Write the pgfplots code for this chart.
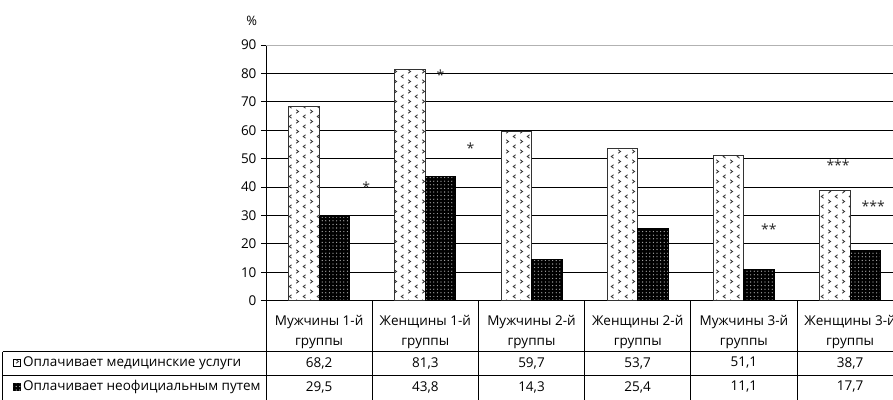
\documentclass[border=0pt]{standalone}
\usepackage{fontspec}
\setmainfont{Open Sans}
\usepackage{pgfplots}
\pgfplotsset{compat=1.18}
\usetikzlibrary{patterns.meta}

\tikzdeclarepattern{
  name=chev, type=uncolored,
  bottom left={(-.1pt,-.1pt)}, top right={(14pt,10pt)},
  tile size={(14pt,10pt)},
  code={
    \draw[line width=0.8pt] (2.2pt,5.8pt) -- (4.6pt,7.5pt) -- (2.2pt,9.2pt);
    \draw[line width=0.8pt] (11.6pt,0.8pt) -- (9.2pt,2.5pt) -- (11.6pt,4.2pt);
  }
}
\tikzdeclarepattern{
  name=wdots, type=uncolored,
  bottom left={(-.5pt,-.5pt)}, top right={(3.6pt,3.6pt)},
  tile size={(3.6pt,3.6pt)},
  code={\fill (1.8pt,1.8pt) circle (0.65pt);}
}

\newcommand\tf{\fontsize{13.5}{16}\selectfont}

\begin{document}
\begin{tikzpicture}
\path[use as bounding box] (-266pt,-98.4pt) rectangle (627pt,300.6pt);
\clip (-266pt,-98.4pt) rectangle (627pt,300.6pt);
\begin{axis}[
  at={(0pt,0pt)}, anchor=south west,
  scale only axis, width=627pt, height=255.6pt,
  xmin=-0.5, xmax=5.404, ymin=0, ymax=90,
  axis lines=left, axis line style={-, line width=0.9pt, black},
  xtick=\empty,
  ytick={0,10,...,80},
  extra y ticks={90},
  extra y tick style={ymajorgrids=true, major grid style={draw=gray!60, line width=0.9pt}},
  ymajorgrids, major grid style={draw=black, line width=0.8pt},
  tick style={black, line width=0.8pt},
  tick align=outside, major tick length=5pt,
  /pgf/number format/assume math mode=true,
  yticklabel style={font=\fontsize{13.5}{16}\selectfont, xshift=-1pt},
  ybar=0pt, bar width=30.5pt,
  clip=false,
]
\addplot[draw=black!80, line width=1pt, fill=white,
  postaction={pattern=chev, pattern color=black!80}]
  coordinates {(0,68.2) (1,81.3) (2,59.7) (3,53.7) (4,51.1) (5,38.7)};
\addplot[draw=black, line width=1pt, fill=black,
  postaction={pattern=wdots, pattern color=gray!60}]
  coordinates {(0,29.5) (1,43.8) (2,14.3) (3,25.4) (4,11.1) (5,17.7)};

\begin{scope}[every node/.style={font=\fontsize{14}{15}\selectfont, text=black!85, inner sep=0pt, yshift=-3pt}]
\node at (axis cs:0.443,41.1) {*};
\node at (axis cs:1.142,80.5) {*};
\node at (axis cs:1.425,54.8) {*};
\node at (axis cs:4.236,26.3) {**};
\node at (axis cs:4.887,48.8) {***};
\node at (axis cs:5.217,34.4) {***};
\end{scope}
\node[font=\fontsize{13}{14}\selectfont, inner sep=0pt] at (axis cs:-0.635,98.5) {\%};
\end{axis}

% table lines
\draw[line width=0.9pt] (-263.3pt,-51.1pt) -- (627pt,-51.1pt);
\draw[line width=0.9pt] (-263.3pt,-74.4pt) -- (627pt,-74.4pt);
\draw[line width=0.9pt] (-263.3pt,-51.1pt) -- (-263.3pt,-100pt);
\draw[line width=0.9pt] (0pt,0pt) -- (0pt,-100pt);
\foreach \k in {1,...,5} \draw[line width=0.9pt] (\k*106.2pt,0pt) -- (\k*106.2pt,-100pt);

% header
\begin{scope}[every node/.style={font=\tf, inner sep=0pt}]
\node at (53.1pt,-21.4pt) {Мужчины 1-й};
\node at (159.3pt,-21.4pt) {Женщины 1-й};
\node at (265.5pt,-21.4pt) {Мужчины 2-й};
\node at (371.7pt,-21.4pt) {Женщины 2-й};
\node at (477.9pt,-21.4pt) {Мужчины 3-й};
\node at (584.1pt,-21.4pt) {Женщины 3-й};
\foreach \k in {0,...,5} \node at (53.1pt+\k*106.2pt,-42.4pt) {группы};
% row 1
\node at (53.1pt,-62.4pt) {68,2};
\node at (159.3pt,-62.4pt) {81,3};
\node at (265.5pt,-62.4pt) {59,7};
\node at (371.7pt,-62.4pt) {53,7};
\node at (477.9pt,-62.4pt) {51,1};
\node at (584.1pt,-62.4pt) {38,7};
% row 2
\node at (53.1pt,-86.4pt) {29,5};
\node at (159.3pt,-86.4pt) {43,8};
\node at (265.5pt,-86.4pt) {14,3};
\node at (371.7pt,-86.4pt) {25,4};
\node at (477.9pt,-86.4pt) {11,1};
\node at (584.1pt,-86.4pt) {17,7};
\node[anchor=west] at (-243pt,-62.4pt) {Оплачивает медицинские услуги};
\node[anchor=west] at (-243pt,-86.4pt) {Оплачивает неофициальным путем};
\end{scope}
% legend keys
\draw[line width=0.8pt, fill=white, postaction={pattern=chev, pattern color=black!75}] (-253pt,-66pt) rectangle (-245.5pt,-58.5pt);
\draw[line width=0.8pt, fill=black, postaction={pattern=wdots, pattern color=gray!55}] (-253pt,-90pt) rectangle (-245.5pt,-82.5pt);
\end{tikzpicture}
\end{document}
